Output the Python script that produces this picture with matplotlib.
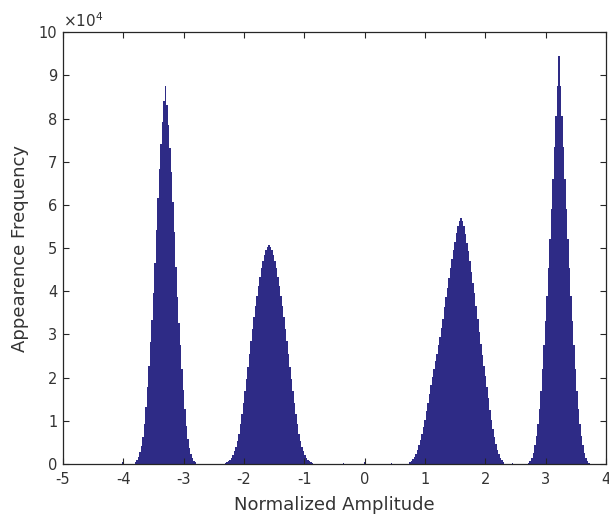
import numpy as np
import matplotlib
matplotlib.use("Agg")
import matplotlib.pyplot as plt

# ---- data (counts in thousands, bin width 0.025) ----
bin_width = 0.025

peak1_start = -3.8125
peak1_counts = [0.5, 0.9, 1.6, 2.7, 4.2, 6.3, 9.3, 13.2, 17.8, 22.8, 28.2, 33.4, 39.5,
                46.5, 54.3, 61.5, 68.4, 74.0, 79.3, 84.0, 87.5,
                83.2, 78.6, 73.2, 67.6, 60.6, 53.7, 45.6, 38.6, 32.6, 27.6, 22.1,
                17.2, 12.7, 8.8, 5.8, 3.8, 2.4, 1.4, 0.8, 0.4]

peak2_start = -2.3475
peak2_counts = [0.1, 0.2, 0.4, 0.7, 1.0, 1.4, 2.0, 2.9, 4.0, 5.4, 7.0, 9.2, 11.5, 14.2,
                17.0, 19.7, 22.5, 25.5, 28.5, 31.2, 34.0, 36.6, 39.0, 41.3, 43.4, 45.3,
                47.0, 48.4, 49.5, 50.2, 50.7,
                50.2, 49.5, 48.4, 47.0, 45.3, 43.4, 41.3, 39.0, 36.6, 34.0, 31.2, 28.5,
                25.5, 22.5, 19.7, 17.0, 14.2, 11.5, 9.2, 7.0, 5.4, 4.0, 2.9, 2.0, 1.4,
                1.0, 0.7, 0.4, 0.2, 0.1]

peak3_start = 0.7375
peak3_counts = [0.4, 0.8, 1.2, 1.7, 2.4, 3.3, 4.4, 5.6, 7.0, 8.6, 10.3, 12.2, 14.2, 16.3,
                18.3, 20.2, 22.0, 23.8, 25.5, 27.5, 29.5, 31.5, 33.5, 36.3, 38.6, 40.8,
                43.0, 45.3, 47.5, 49.5, 51.5, 53.5, 55.2, 56.3, 56.9,
                56.2, 55.0, 53.2, 51.2, 49.3, 47.0, 44.5, 42.0, 39.5, 36.6, 33.6, 30.5,
                27.8, 25.3, 22.8, 20.3, 17.8, 15.2, 12.6, 10.2, 8.0, 6.2, 4.6, 3.3, 2.3,
                1.5, 0.9, 0.4]

peak4_start = 2.7075
peak4_counts = [0.2, 0.6, 1.4, 2.6, 4.3, 6.5, 9.3, 12.8, 17.0, 22.0, 27.5, 33.0, 39.0,
                45.5, 52.0, 59.0, 66.0, 73.5, 80.5, 87.5, 94.5,
                87.5, 80.5, 73.5, 66.0, 59.0, 52.0, 45.5, 39.0, 33.0, 27.5, 22.0,
                17.0, 12.8, 9.3, 6.5, 4.3, 2.6, 1.4, 0.6, 0.2]

noise_positions = [-4.01, -0.35, 0.0, 0.45, 2.45]
noise_counts = [0.35, 0.15, 0.35, 0.15, 0.15]

x_ticks = [-5, -4, -3, -2, -1, 0, 1, 2, 3, 4]
y_ticks = [0, 1, 2, 3, 4, 5, 6, 7, 8, 9, 10]

bar_color = "#2E2B86"
axis_color = "#262626"
text_color = "#333333"

fig = plt.figure(figsize=(6.09, 5.19), dpi=100)
ax = fig.add_axes([0.1034, 0.106, 0.8916, 0.832])

for start, counts in [(peak1_start, peak1_counts), (peak2_start, peak2_counts),
                      (peak3_start, peak3_counts), (peak4_start, peak4_counts)]:
    c = np.array(counts) * 1e3
    edges = start + bin_width * np.arange(len(c) + 1)
    ax.stairs(c, edges, fill=True, color=bar_color, linewidth=0)

ax.bar(noise_positions, np.array(noise_counts) * 1e3, width=0.015,
       color=bar_color, linewidth=0)

ax.set_xlim(-5, 4)
ax.set_ylim(0, 1e5)
ax.set_xticks(x_ticks)
ax.set_xticklabels([str(t) for t in x_ticks])
ax.set_yticks([t * 1e4 for t in y_ticks])
ax.set_yticklabels([str(t) for t in y_ticks])

ax.tick_params(direction="in", length=4, width=0.8, color=axis_color,
               labelcolor=text_color, labelsize=10.5, top=True, right=True, pad=4)
ax.tick_params(axis="x", pad=6)
for s in ax.spines.values():
    s.set_color(axis_color)
    s.set_linewidth(0.9)

ax.set_xlabel("Normalized Amplitude", fontsize=13, color=text_color, labelpad=6)
ax.set_ylabel("Appearence Frequency", fontsize=13, color=text_color, labelpad=7)
ax.text(0.0, 1.005, r"$\times10^{4}$", transform=ax.transAxes, ha="left", va="bottom",
        fontsize=11, color=text_color)

fig.savefig("out.png", dpi=100)
